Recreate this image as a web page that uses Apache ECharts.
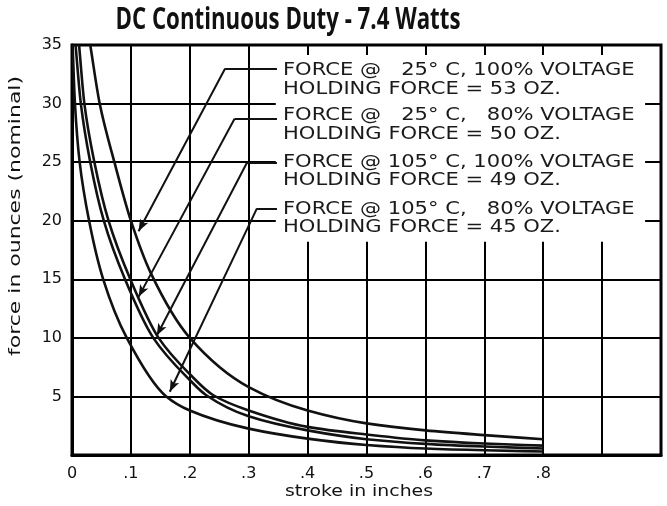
<!DOCTYPE html>
<html>
<head>
<meta charset="utf-8">
<script src="https://cdn.jsdelivr.net/npm/echarts@6/dist/echarts.min.js"></script>
<style>
  html, body { margin: 0; padding: 0; background: #fff; }
  #chart { width: 667px; height: 506px; }
</style>
</head>
<body>
<div id="chart"></div>
<script>
// Force vs. stroke curves, [stroke in inches, force in ounces]
const force25c100  = [[0.031,35],[0.047,30],[0.072,25],[0.1,20],[0.134,15.5],[0.2,10],[0.3,5.8],[0.4,3.8],[0.5,2.7],[0.6,2.1],[0.7,1.7],[0.8,1.35]];
const force25c80   = [[0.012,35],[0.021,30],[0.038,25],[0.062,20],[0.099,15],[0.147,10],[0.2,6.9],[0.24,5.1],[0.3,3.8],[0.4,2.4],[0.5,1.75],[0.6,1.25],[0.7,0.98],[0.8,0.8]];
const force105c100 = [[0.006,35],[0.015,30],[0.031,25],[0.054,20],[0.09,15],[0.138,10],[0.2,6.4],[0.228,5.1],[0.3,3.3],[0.4,2.1],[0.5,1.35],[0.6,0.95],[0.7,0.72],[0.8,0.55]];
const force105c80  = [[0.001,35],[0.005,30],[0.013,25],[0.029,20],[0.053,15],[0.093,10],[0.16,5],[0.2,3.8],[0.3,2.25],[0.4,1.4],[0.5,0.85],[0.6,0.55],[0.7,0.4],[0.8,0.3]];

// Axis ranges and ticks
const strokeMin = 0, strokeMax = 1, strokeStep = 0.1, strokeLastLabel = 0.8;
const forceMin = 0, forceMax = 35, forceStep = 5;

// Legend notes: [first line, second line]
const notes = [
  ['FORCE @   25\u00b0 C, 100% VOLTAGE', 'HOLDING FORCE = 53 OZ.'],
  ['FORCE @   25\u00b0 C,   80% VOLTAGE', 'HOLDING FORCE = 50 OZ.'],
  ['FORCE @ 105\u00b0 C, 100% VOLTAGE', 'HOLDING FORCE = 49 OZ.'],
  ['FORCE @ 105\u00b0 C,   80% VOLTAGE', 'HOLDING FORCE = 45 OZ.']
];
// Leader lines for each note: [note end, elbow, arrow tip] in [stroke, force]
const leaders = [
  [[0.348,33.0],[0.26,33.0],[0.113,19.1]],
  [[0.348,28.7],[0.276,28.7],[0.113,13.5]],
  [[0.348,24.95],[0.297,24.95],[0.144,10.2]],
  [[0.348,21.05],[0.314,21.05],[0.166,5.4]]
];
// Blank panel behind the notes: [[x0, y0], [x1, y1]]
const notePanel = [[0.346,34.15],[0.973,18.2]];

const titleText = 'DC Continuous Duty - 7.4 Watts';
const xName = 'stroke in inches';
const yName = 'force in ounces (nominal)';

const INK = '#111';
const chart = echarts.init(document.getElementById('chart'));

// horizontal stretch needed for a string to span a given width
const measureCtx = document.createElement('canvas').getContext('2d');
function stretch(text, font, width) {
  measureCtx.font = font;
  return width / measureCtx.measureText(text).width;
}

// Monotone cubic (Fritsch-Carlson) path through pixel points sorted by x
function monotonePath(pts) {
  const n = pts.length;
  const dx = [], s = [];
  for (let i = 0; i < n - 1; i++) {
    dx.push(pts[i + 1][0] - pts[i][0]);
    s.push((pts[i + 1][1] - pts[i][1]) / dx[i]);
  }
  const m = new Array(n);
  m[0] = s[0];
  m[n - 1] = s[n - 2];
  for (let i = 1; i < n - 1; i++) {
    if (s[i - 1] * s[i] <= 0) { m[i] = 0; continue; }
    const h0 = dx[i - 1], h1 = dx[i];
    m[i] = 3 * (h0 + h1) / ((2 * h1 + h0) / s[i - 1] + (h1 + 2 * h0) / s[i]);
  }
  let d = 'M' + pts[0][0] + ',' + pts[0][1];
  for (let i = 0; i < n - 1; i++) {
    const h = dx[i] / 3;
    d += 'C' + (pts[i][0] + h) + ',' + (pts[i][1] + m[i] * h) + ' ' +
         (pts[i + 1][0] - h) + ',' + (pts[i + 1][1] - m[i + 1] * h) + ' ' +
         pts[i + 1][0] + ',' + pts[i + 1][1];
  }
  return d;
}

const curveSeries = (name, data) => ({
  name, type: 'custom', data, clip: true, silent: true, z: 3,
  encode: { x: 0, y: 1 },
  renderItem: (params, api) => {
    if (params.dataIndex !== 0) return null;
    const pts = data.map(p => api.coord(p));
    return {
      type: 'path',
      shape: { pathData: monotonePath(pts) },
      style: { fill: 'none', stroke: INK, lineWidth: 2.6 }
    };
  }
});

const leaderLines = [];
leaders.forEach(([a, b, c]) => {
  leaderLines.push([{ coord: a, symbol: 'none' }, { coord: b, symbol: 'none' }]);
  leaderLines.push([{ coord: b, symbol: 'none' }, { coord: c, symbol: 'arrow', symbolSize: [7, 12] }]);
});

const noteFont = '17px "DejaVu Sans"';
const noteScale = stretch(notes[0][1], noteFont, 278);
const noteTops = [61.6, 106.6, 153.2, 199.9];

const titleFont = 'bold 30px "Open Sans"';
const xNameFont = '15px "DejaVu Sans"';
const yNameFont = '15px "DejaVu Sans"';

const graphics = [
  {
    type: 'text', x: 288, y: 20,
    scaleX: stretch(titleText, titleFont, 345),
    style: { text: titleText, font: titleFont, fill: INK, align: 'center', verticalAlign: 'middle' }
  },
  {
    type: 'text', x: 359, y: 492,
    scaleX: stretch(xName, xNameFont, 148),
    style: { text: xName, font: xNameFont, fill: INK, align: 'center', verticalAlign: 'middle' }
  },
  {
    type: 'text', x: 16, y: 216, rotation: Math.PI / 2,
    scaleX: stretch(yName, yNameFont, 280),
    style: { text: yName, font: yNameFont, fill: INK, align: 'center', verticalAlign: 'middle' }
  }
];
notes.forEach((lines, i) => {
  graphics.push({
    type: 'text', x: 283, y: noteTops[i], scaleX: noteScale, z: 10,
    style: { text: lines.join('\n'), font: noteFont, lineHeight: 18.4, fill: '#1a1a1a', align: 'left', verticalAlign: 'top' }
  });
});

chart.setOption({
  backgroundColor: '#fff',
  animation: false,
  grid: {
    left: 72, right: 6, top: 45, bottom: 51,
    show: true, borderColor: '#000', borderWidth: 3, backgroundColor: '#fff'
  },
  xAxis: {
    type: 'value', min: strokeMin, max: strokeMax, interval: strokeStep,
    axisLine: { show: true, lineStyle: { color: '#000', width: 3 } },
    axisTick: { show: false },
    splitLine: { show: true, lineStyle: { color: '#000', width: 2 } },
    axisLabel: {
      color: INK, fontSize: 16, fontFamily: 'DejaVu Sans', margin: 11,
      formatter: v => {
        if (v > strokeLastLabel + 1e-9) return '';
        if (v === 0) return '0';
        return '.' + Math.round(v * 10);
      }
    }
  },
  yAxis: {
    type: 'value', min: forceMin, max: forceMax, interval: forceStep,
    axisLine: { show: true, lineStyle: { color: '#000', width: 3 } },
    axisTick: { show: false },
    splitLine: { show: true, lineStyle: { color: '#000', width: 2 } },
    axisLabel: {
      color: INK, fontSize: 16, fontFamily: 'DejaVu Sans', margin: 10,
      formatter: v => (v === 0 ? '' : String(v))
    }
  },
  graphic: graphics,
  series: [
    {
      name: 'panel', type: 'line', data: [], z: 2, silent: true,
      markArea: {
        silent: true,
        itemStyle: { color: '#fff', borderWidth: 0 },
        data: [[{ coord: notePanel[0] }, { coord: notePanel[1] }]]
      }
    },
    curveSeries('25\u00b0 C, 100%', force25c100),
    curveSeries('25\u00b0 C, 80%', force25c80),
    curveSeries('105\u00b0 C, 100%', force105c100),
    curveSeries('105\u00b0 C, 80%', force105c80),
    {
      name: 'leaders', type: 'line', data: [], z: 4, silent: true,
      markLine: {
        silent: true, animation: false,
        label: { show: false },
        lineStyle: { color: INK, width: 2, type: 'solid' },
        emphasis: { disabled: true },
        data: leaderLines
      }
    }
  ]
});
</script>
</body>
</html>
